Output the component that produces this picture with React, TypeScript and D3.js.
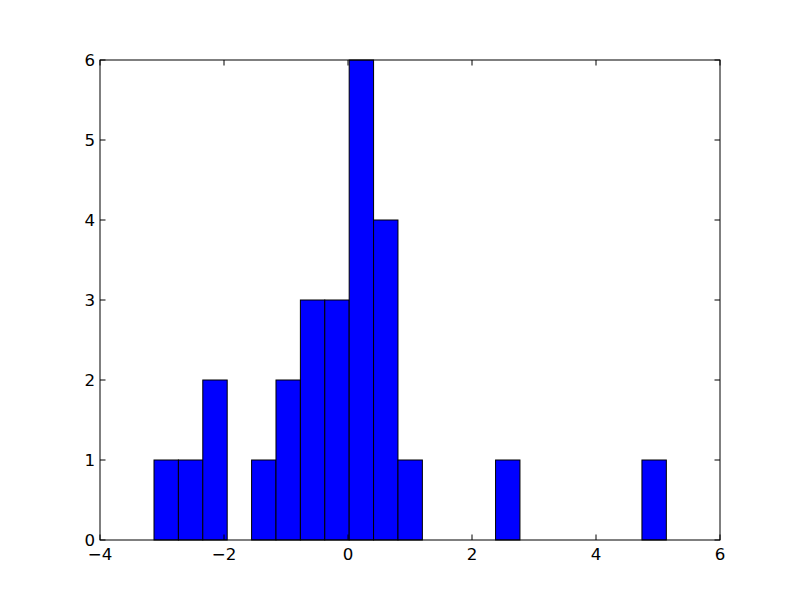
import React from "react";
import * as d3 from "d3";

const counts = [1, 1, 2, 0, 1, 2, 3, 3, 6, 4, 1, 0, 0, 0, 1, 0, 0, 0, 0, 0, 1];
const binStart = -3.129;
const binWidth = 0.3935;
const xTicks = [-4, -2, 0, 2, 4, 6];
const yTicks = [0, 1, 2, 3, 4, 5, 6];

const W = 800, H = 600;
const L = 100, R = 720, T = 60, B = 540;

export default function App() {
  const x = d3.scaleLinear().domain([-4, 6]).range([L, R]);
  const y = d3.scaleLinear().domain([0, 6]).range([B, T]);
  const bins = counts.map((c, i) => ({ x0: binStart + i * binWidth, x1: binStart + (i + 1) * binWidth, c }));
  const fmt = (v: number) => (v < 0 ? "\u2212" + Math.abs(v) : String(v));
  const tl = 5.5;
  const font = "DejaVu Sans";
  return (
    <svg width={W} height={H} style={{ position: "absolute", left: 0, top: 0, background: "#fff" }}>
      <rect x={0} y={0} width={W} height={H} fill="#fff" />
      {bins.filter(b => b.c > 0).map((b, i) => (
        <rect key={i} x={x(b.x0)} y={y(b.c)} width={x(b.x1) - x(b.x0)} height={y(0) - y(b.c)}
          fill="#0000ff" stroke="#000" strokeWidth={1} />
      ))}
      <rect x={L} y={T} width={R - L} height={B - T} fill="none" stroke="#000" strokeWidth={1} />
      {xTicks.map(t => (
        <g key={"x" + t}>
          <line x1={x(t)} x2={x(t)} y1={B} y2={B - tl} stroke="#000" />
          <line x1={x(t)} x2={x(t)} y1={T} y2={T + tl} stroke="#000" />
          <text x={x(t)} y={B + 20} textAnchor="middle" fontFamily={font} fontSize={16.67}>{fmt(t)}</text>
        </g>
      ))}
      {yTicks.map(t => (
        <g key={"y" + t}>
          <line x1={L} x2={L + tl} y1={y(t)} y2={y(t)} stroke="#000" />
          <line x1={R} x2={R - tl} y1={y(t)} y2={y(t)} stroke="#000" />
          <text x={L - 5} y={y(t) + 5.5} textAnchor="end" fontFamily={font} fontSize={16.67}>{fmt(t)}</text>
        </g>
      ))}
    </svg>
  );
}
